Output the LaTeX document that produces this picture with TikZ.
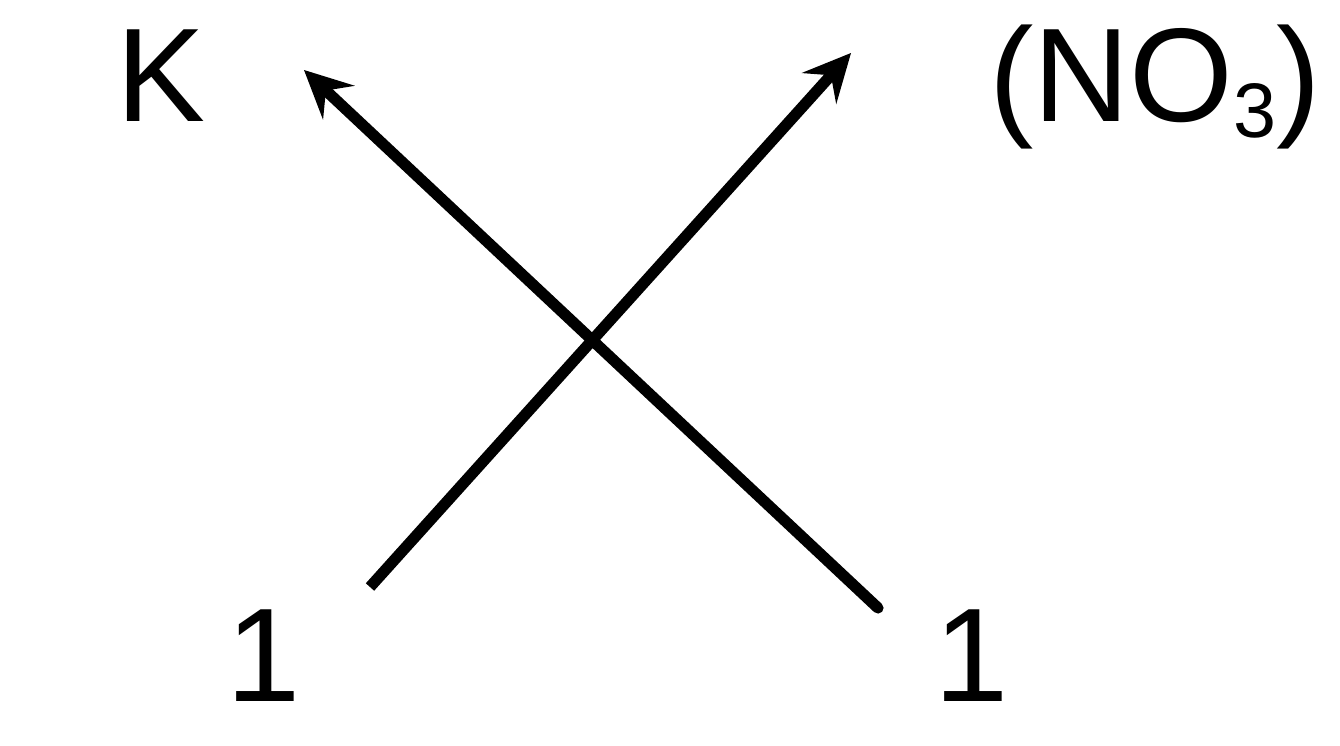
\documentclass[tikz,border=0pt]{standalone}
\usepackage{fontspec}
\setmainfont{Liberation Sans}
\usetikzlibrary{arrows.meta}
\tikzset{
  lbl/.style={inner sep=0pt, outer sep=0pt, anchor=base, font=\fontsize{100}{120}\selectfont},
  lblw/.style={inner sep=0pt, outer sep=0pt, anchor=base west, font=\fontsize{100}{120}\selectfont},
  arr/.style={line width=8.4pt, -{Stealth[length=36pt, width=35pt, inset=13.5pt, line width=0pt]}},
}
\begin{document}
\begin{tikzpicture}[x=0.75pt, y=-0.75pt]
\useasboundingbox (0,0) rectangle (1340,746);
% labels
\node[lbl] (K) at (161,121) {K};
\node[lblw] (NO3) at (989,121) {(NO\raisebox{-12pt}{\fontsize{58}{70}\selectfont 3})};
\node[lbl] (oneL) at (264,701) {1};
\node[lbl] (oneR) at (972,701) {1};
% connector end points
\coordinate (tailA) at (878,608);
\coordinate (tipA) at (304,70);
\coordinate (tailB) at (370,587);
\coordinate (tipB) at (851,53);
% arrows
\draw[arr, line cap=round] (tailA) -- (tipA);
\draw[arr, line cap=butt] (tailB) -- (tipB);
\end{tikzpicture}
\end{document}
